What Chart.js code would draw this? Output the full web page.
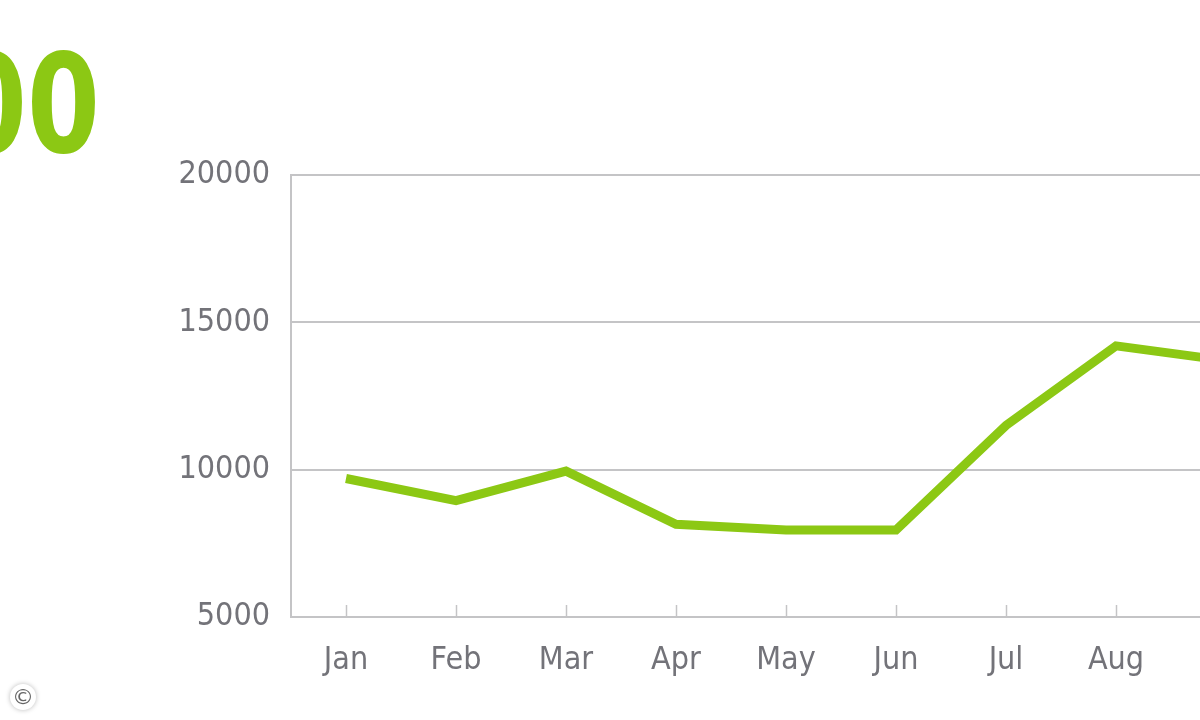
<!DOCTYPE html>
<html>
<head>
<meta charset="utf-8">
<script src="https://cdn.jsdelivr.net/npm/chart.js@4.4.1/dist/chart.umd.min.js"></script>
<style>
  html, body { margin: 0; padding: 0; width: 1200px; height: 720px; overflow: hidden; background: #fff; }
  #wrap { position: absolute; left: 0; top: 0; width: 1300px; height: 720px; }
  #big {
    position: absolute; right: 1100px; top: 36px;
    font: bold 138px "DejaVu Sans", sans-serif; line-height: 138px;
    color: #8cc814; transform: scaleX(0.76); transform-origin: right top;
    white-space: nowrap;
  }
  #copy {
    position: absolute; left: 10px; top: 684px; width: 26px; height: 26px;
    border-radius: 50%; background: #fff; box-shadow: 0 0 5px #bbb;
    font: 22px "DejaVu Sans", sans-serif; line-height: 26px; text-align: center; color: #666;
  }
</style>
</head>
<body>
<div id="big">00</div>
<div id="wrap"><canvas id="chart" width="1300" height="720"></canvas></div>
<div id="copy">©</div>
<script>
// months shown on the x axis (Sep is cut off at the right edge)
const months = ['Jan', 'Feb', 'Mar', 'Apr', 'May', 'Jun', 'Jul', 'Aug', 'Sep'];
// values
const values = [9700, 8950, 9950, 8150, 7950, 7950, 11500, 14200, 13700];
// y axis tick labels
const yTicks = [5000, 10000, 15000, 20000];

const gray = '#c4c4c6';
const labelColor = '#737379';
const tickFont = { family: '"DejaVu Sans Condensed", "Liberation Sans Narrow", sans-serif', size: 32 };

// small tick marks drawn inside the plot, above the bottom line
const innerTicks = {
    id: 'innerTicks',
    afterDatasetsDraw(chart) {
        const x = chart.scales.x;
        const ctx = chart.ctx;
        const bottom = chart.chartArea.bottom;
        ctx.save();
        ctx.strokeStyle = gray;
        ctx.lineWidth = 1.5;
        x.ticks.forEach((t, i) => {
            const px = Math.round(x.getPixelForTick(i)) + 0.5;
            ctx.beginPath();
            ctx.moveTo(px, bottom - 12);
            ctx.lineTo(px, bottom);
            ctx.stroke();
        });
        ctx.restore();
    }
};

new Chart(document.getElementById('chart'), {
    type: 'line',
    data: {
        labels: months,
        datasets: [{
            data: values,
            borderColor: '#8cc814',
            borderWidth: 9,
            pointRadius: 0,
            tension: 0,
            borderJoinStyle: 'miter'
        }]
    },
    options: {
        responsive: false,
        animation: false,
        layout: { padding: { top: 175, left: 0, right: 19, bottom: 0 } },
        plugins: { legend: { display: false }, tooltip: { enabled: false } },
        scales: {
            x: {
                offset: true,
                grid: { display: false, drawTicks: false },
                border: { display: false },
                ticks: { color: labelColor, font: tickFont, padding: 24, maxRotation: 0, autoSkip: false },
                afterFit(scale) { scale.height = 103; }
            },
            y: {
                min: 5000,
                max: 20000,
                afterBuildTicks(scale) { scale.ticks = yTicks.map(v => ({ value: v })); },
                grid: { color: gray, lineWidth: 2, drawTicks: false },
                border: { display: true, color: gray, width: 2 },
                ticks: { color: labelColor, font: tickFont, padding: 21, callback: v => String(v) },
                afterFit(scale) { scale.width = 291; }
            }
        }
    },
    plugins: [innerTicks]
});
</script>
</body>
</html>
